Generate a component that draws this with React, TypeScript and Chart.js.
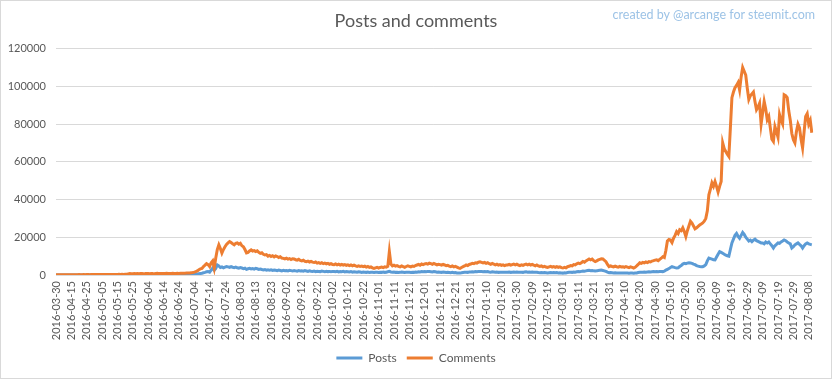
import React, { useEffect, useRef } from "react";
import { Chart, registerables } from "chart.js";

Chart.register(...registerables);

// Categories: first day, then a continuous daily run
const FIRST_DAY = "2016-03-30";
const RUN_START = "2016-04-06";
const RUN_LENGTH = 492;

function buildDates(): string[] {
  const out = [FIRST_DAY];
  const [y, m, d] = RUN_START.split("-").map(Number);
  for (let k = 0; k < RUN_LENGTH; k++) {
    const dt = new Date(Date.UTC(y, m - 1, d + k));
    out.push(dt.toISOString().slice(0, 10));
  }
  return out;
}
const dates = buildDates();

const posts = [
  20, 30, 25, 40, 35, 30, 45, 40, 35, 50,
  45, 50, 40, 55, 50, 60, 55, 50, 65, 60,
  60, 70, 65, 75, 70, 80, 75, 70, 85, 80,
  80, 90, 85, 95, 90, 100, 95, 105, 100, 110,
  105, 115, 110, 120, 115, 125, 130, 150, 170, 160,
  165, 175, 160, 180, 170, 185, 175, 165, 180, 190,
  185, 170, 195, 180, 175, 190, 200, 180, 190, 200,
  190, 200, 210, 195, 185, 205, 215, 200, 190, 210,
  205, 220, 215, 230, 220, 240, 260, 250, 280, 300,
  350, 420, 500, 650, 800, 950, 1200, 1400, 1700, 1800,
  1500, 2600, 3700, 2500, 3500, 5300, 4800, 4000, 4300, 3800,
  4200, 4500, 4300, 4000, 4400, 4100, 3900, 4200, 3800, 3600,
  3900, 3700, 3400, 3600, 3000, 3300, 3500, 3200, 3400, 3100,
  3500, 3300, 3000, 3200, 2900, 2700, 2900, 2600, 2800, 2500,
  2700, 2400, 2600, 2500, 2300, 2600, 2400, 2200, 2500, 2300,
  2400, 2200, 2500, 2300, 2100, 2400, 2200, 2000, 2300, 2100,
  2200, 2000, 2300, 2100, 1900, 2200, 2000, 1900, 2100, 1800,
  2000, 1900, 1800, 2100, 1900, 1700, 2000, 1800, 1900, 1700,
  1900, 1800, 1700, 1900, 1600, 1800, 1700, 1900, 1600, 1800,
  1700, 1600, 1800, 1500, 1700, 1600, 1500, 1700, 1600, 1400,
  1600, 1500, 1400, 1600, 1300, 1500, 1400, 1300, 1500, 1400,
  1300, 1500, 1400, 1600, 1400, 1500, 1700, 1900, 1600, 1500,
  1600, 1400, 1500, 1300, 1400, 1600, 1500, 1300, 1400, 1500,
  1400, 1300, 1500, 1400, 1600, 1500, 1700, 1600, 1800, 1700,
  1800, 1700, 1900, 1800, 1700, 1600, 1800, 1700, 1500, 1600,
  1500, 1400, 1600, 1500, 1300, 1400, 1300, 1200, 1400, 1200,
  1300, 1100, 1000, 1000, 1200, 1300, 1400, 1500, 1400, 1600,
  1600, 1700, 1600, 1800, 1700, 1800, 1900, 1800, 1700, 1800,
  1700, 1800, 1600, 1500, 1700, 1600, 1500, 1600, 1400, 1500,
  1400, 1500, 1400, 1500, 1500, 1600, 1400, 1500, 1600, 1500,
  1600, 1500, 1400, 1500, 1400, 1600, 1700, 1500, 1600, 1500,
  1600, 1500, 1400, 1500, 1300, 1200, 1300, 1200, 1300, 1200,
  1100, 1200, 1300, 1200, 1300, 1200, 1300, 1100, 1200, 1100,
  1000, 1200, 1100, 1300, 1400, 1500, 1400, 1600, 1500, 1700,
  1800, 1700, 1900, 2100, 2000, 2200, 2400, 2500, 2300, 2400,
  2200, 2100, 2200, 2400, 2500, 2600, 2400, 2200, 1900, 1500,
  1200, 1300, 1200, 1100, 1200, 1100, 1000, 1100, 1000, 1100,
  1000, 1100, 1000, 900, 1000, 1000, 900, 1000, 1100, 1300,
  1500, 1400, 1500, 1600, 1500, 1600, 1700, 1600, 1700, 1800,
  1700, 1800, 1700, 1800, 1900, 1800, 2000, 2600, 3000, 3400,
  4000, 4400, 4200, 3900, 3700, 3800, 4500, 5000, 5800, 6200,
  6000, 6300, 6500, 6400, 6200, 5800, 5500, 5000, 4700, 4500,
  4400, 4400, 4800, 5500, 7500, 9000, 8700, 8400, 8100, 8000,
  9500, 11000, 12400, 12000, 11500, 11000, 10500, 10200, 10000, 13500,
  17000, 19000, 21000, 22000, 20500, 19500, 21000, 22500, 21500, 20000,
  19000, 18000, 18500, 17700, 18500, 19000, 18200, 17800, 17400, 17000,
  17000, 16500, 17500, 17000, 17500, 16500, 15500, 14300, 15500, 16200,
  17000, 16800, 17500, 18000, 18600, 18200, 17500, 17000, 16500, 14300,
  15000, 16000, 16500, 17000, 16200, 15500, 14300, 15500, 16500, 17000,
  16500, 16200, 16000,
];

const comments = [
  120, 90, 150, 110, 130, 160, 140, 120, 170, 150,
  160, 180, 140, 190, 170, 200, 180, 160, 210, 190,
  200, 220, 180, 240, 210, 230, 250, 220, 260, 240,
  250, 270, 230, 280, 260, 300, 280, 310, 290, 320,
  300, 340, 320, 360, 330, 380, 420, 600, 750, 680,
  720, 800, 650, 780, 700, 820, 760, 690, 740, 810,
  780, 700, 850, 760, 720, 800, 880, 740, 790, 830,
  760, 820, 870, 800, 740, 860, 900, 820, 780, 880,
  850, 920, 880, 960, 900, 1000, 1100, 1050, 1200, 1300,
  1500, 1800, 2200, 2800, 3200, 3500, 4500, 5200, 6000, 5500,
  4500, 6500, 7500, 3700, 9000, 13500, 16000, 14000, 11600, 13500,
  15000, 16200, 17000, 17700, 17200, 16500, 16000, 16800, 17000, 16300,
  16800, 15500, 15000, 13500, 11700, 12000, 12800, 13300, 12700, 12900,
  12400, 12800, 12000, 11500, 11800, 11000, 10600, 10800, 10000, 10400,
  9800, 10200, 9600, 10100, 9800, 9300, 9700, 9000, 8800, 8500,
  8900, 8400, 8700, 8200, 8600, 8500, 8100, 7900, 8300, 7700,
  7500, 7800, 7300, 7100, 7400, 6900, 7200, 6800, 6600, 6900,
  6300, 6600, 6200, 6500, 6000, 6300, 5900, 6200, 5700, 6000,
  5600, 5500, 5900, 5400, 5700, 5300, 5600, 5200, 5500, 5100,
  5400, 5000, 5300, 4900, 5200, 4800, 4600, 4900, 4500, 4700,
  4400, 4700, 4200, 4500, 4000, 4300, 3800, 3500, 3800, 4100,
  3700, 4000, 4200, 3900, 4300, 4100, 4600, 12400, 5800, 4800,
  5200, 4700, 5000, 4600, 4300, 4800, 4400, 4100, 4500, 4900,
  4600, 4300, 4700, 4500, 5000, 5300, 5600, 5200, 5800, 5500,
  5900, 6100, 5800, 6300, 6000, 5700, 6100, 5800, 5400, 5700,
  5500, 5200, 5600, 5300, 4900, 5100, 4700, 4400, 4800, 4300,
  4600, 4200, 3800, 3500, 4000, 4400, 4800, 5300, 5000, 5600,
  5800, 6200, 6000, 6500, 6300, 6800, 7000, 6700, 6400, 6700,
  6200, 6500, 6000, 5700, 6100, 5800, 5400, 5700, 5200, 5500,
  5100, 5400, 5000, 5300, 5300, 5600, 5200, 5500, 5800, 5400,
  5700, 5300, 5000, 5400, 5100, 5500, 5800, 5400, 5700, 5300,
  5600, 5200, 4900, 5300, 4800, 4500, 4800, 4300, 4600, 4200,
  4000, 4300, 4600, 4200, 4500, 4100, 4400, 4000, 4300, 3900,
  3700, 4100, 3800, 4400, 4600, 5000, 4800, 5500, 5300, 5900,
  6300, 6000, 6500, 7200, 6800, 7500, 8000, 8500, 8000, 8400,
  7600, 7100, 7500, 8000, 8300, 8600, 8500, 7800, 7000, 5600,
  4400, 4800, 4500, 4300, 4700, 4400, 4200, 4600, 4300, 4400,
  4100, 4500, 4200, 3900, 4300, 4000, 3700, 4100, 4800, 5600,
  6500, 6200, 6700, 6400, 6900, 6600, 7100, 6900, 7400, 7600,
  7900, 8000, 7600, 8300, 8900, 9700, 9300, 13000, 18000, 18800,
  18500, 17200, 19500, 21000, 23000, 22000, 24000, 23500, 25000, 23000,
  20400, 23500, 26000, 28500, 27500, 26000, 24500, 25000, 25800, 26500,
  27000, 27600, 28500, 30000, 34000, 42500, 45500, 48800, 47000, 49600,
  47000, 44000, 47000, 49600, 70000, 67000, 65500, 64000, 62800, 78000,
  94000, 97000, 99300, 100500, 102000, 98000, 105000, 110000, 108000, 106000,
  99000, 93000, 95000, 96000, 97000, 92000, 87600, 89000, 91000, 80000,
  86000, 92000, 88000, 82300, 84000, 78000, 72000, 70800, 78700, 76000,
  73000, 85000, 82000, 80000, 95500, 95000, 94000, 87000, 82000, 75000,
  71700, 70000, 76000, 80000, 78000, 72000, 67400, 76000, 84000, 85500,
  80000, 82000, 75400,
];

const yTicks = [0, 20000, 40000, 60000, 80000, 100000, 120000];
const LABEL_EVERY = 10;

const TEXT = "#595959";
const GRID = "#d9d9d9";
const BLUE = "#5b9bd5";
const ORANGE = "#ed7d31";
const FONT = "Lato, 'Open Sans', sans-serif";

export default function App() {
  const ref = useRef<HTMLCanvasElement | null>(null);

  useEffect(() => {
    document.body.style.margin = "0";
    if (!ref.current) return;
    const chart = new Chart(ref.current, {
      type: "line",
      data: {
        labels: dates,
        datasets: [
          {
            label: "Posts",
            data: posts,
            borderColor: BLUE,
            backgroundColor: BLUE,
            borderWidth: 3,
            pointRadius: 0,
            tension: 0,
            order: 1,
          },
          {
            label: "Comments",
            data: comments,
            borderColor: ORANGE,
            backgroundColor: ORANGE,
            borderWidth: 3,
            pointRadius: 0,
            tension: 0,
            order: 0,
          },
        ],
      },
      options: {
        animation: false,
        responsive: false,
        maintainAspectRatio: false,
        layout: { padding: { left: 0, right: 0, top: 0, bottom: 4 } },
        plugins: {
          tooltip: { enabled: false },
          title: {
            display: true,
            text: "Posts and comments",
            color: TEXT,
            font: { family: FONT, size: 18, weight: "normal" },
            padding: { top: 9, bottom: 17 },
          },
          legend: {
            display: true,
            position: "bottom",
            labels: {
              color: TEXT,
              font: { family: FONT, size: 12 },
              usePointStyle: true,
              pointStyle: "line",
              pointStyleWidth: 26,
              padding: 10,
              sort: (a: any, b: any) => a.datasetIndex - b.datasetIndex,
            },
          },
        },
        scales: {
          x: {
            type: "category",
            grid: { display: false, drawTicks: false },
            border: { display: true, color: GRID, width: 1 },
            ticks: {
              autoSkip: false,
              maxRotation: 90,
              minRotation: 90,
              padding: 6,
              color: TEXT,
              font: { family: FONT, size: 11 },
              callback: (_v: any, i: number) => (i % LABEL_EVERY === 0 ? dates[i] : ""),
            },
            afterFit: (s: any) => {
              s.height = 67;
            },
          },
          y: {
            min: 0,
            max: 120000,
            afterBuildTicks: (s: any) => {
              s.ticks = yTicks.map((v) => ({ value: v }));
            },
            grid: { color: GRID, drawTicks: false },
            border: { display: false },
            ticks: {
              padding: 10,
              color: TEXT,
              font: { family: FONT, size: 11 },
              callback: (v: any) => String(v),
            },
            afterFit: (s: any) => {
              s.width = 55;
            },
          },
          yRightSpace: {
            type: "linear",
            position: "right",
            display: true,
            grid: { display: false, drawTicks: false },
            border: { display: false },
            ticks: { display: false },
            afterFit: (s: any) => {
              s.width = 14;
            },
          },
        },
      },
    });
    return () => chart.destroy();
  }, []);

  return (
    <div
      style={{
        position: "relative",
        width: 832,
        height: 379,
        boxSizing: "border-box",
        border: "1px solid #d9d9d9",
        background: "#fff",
        overflow: "hidden",
      }}
    >
      <canvas ref={ref} width={830} height={377} style={{ display: "block", width: 830, height: 377 }} />
      <div
        style={{
          position: "absolute",
          right: 16,
          top: 6,
          fontFamily: FONT,
          fontSize: 12.5,
          color: "#9dc3e6",
          whiteSpace: "nowrap",
        }}
      >
        created by @arcange for steemit.com
      </div>
    </div>
  );
}
